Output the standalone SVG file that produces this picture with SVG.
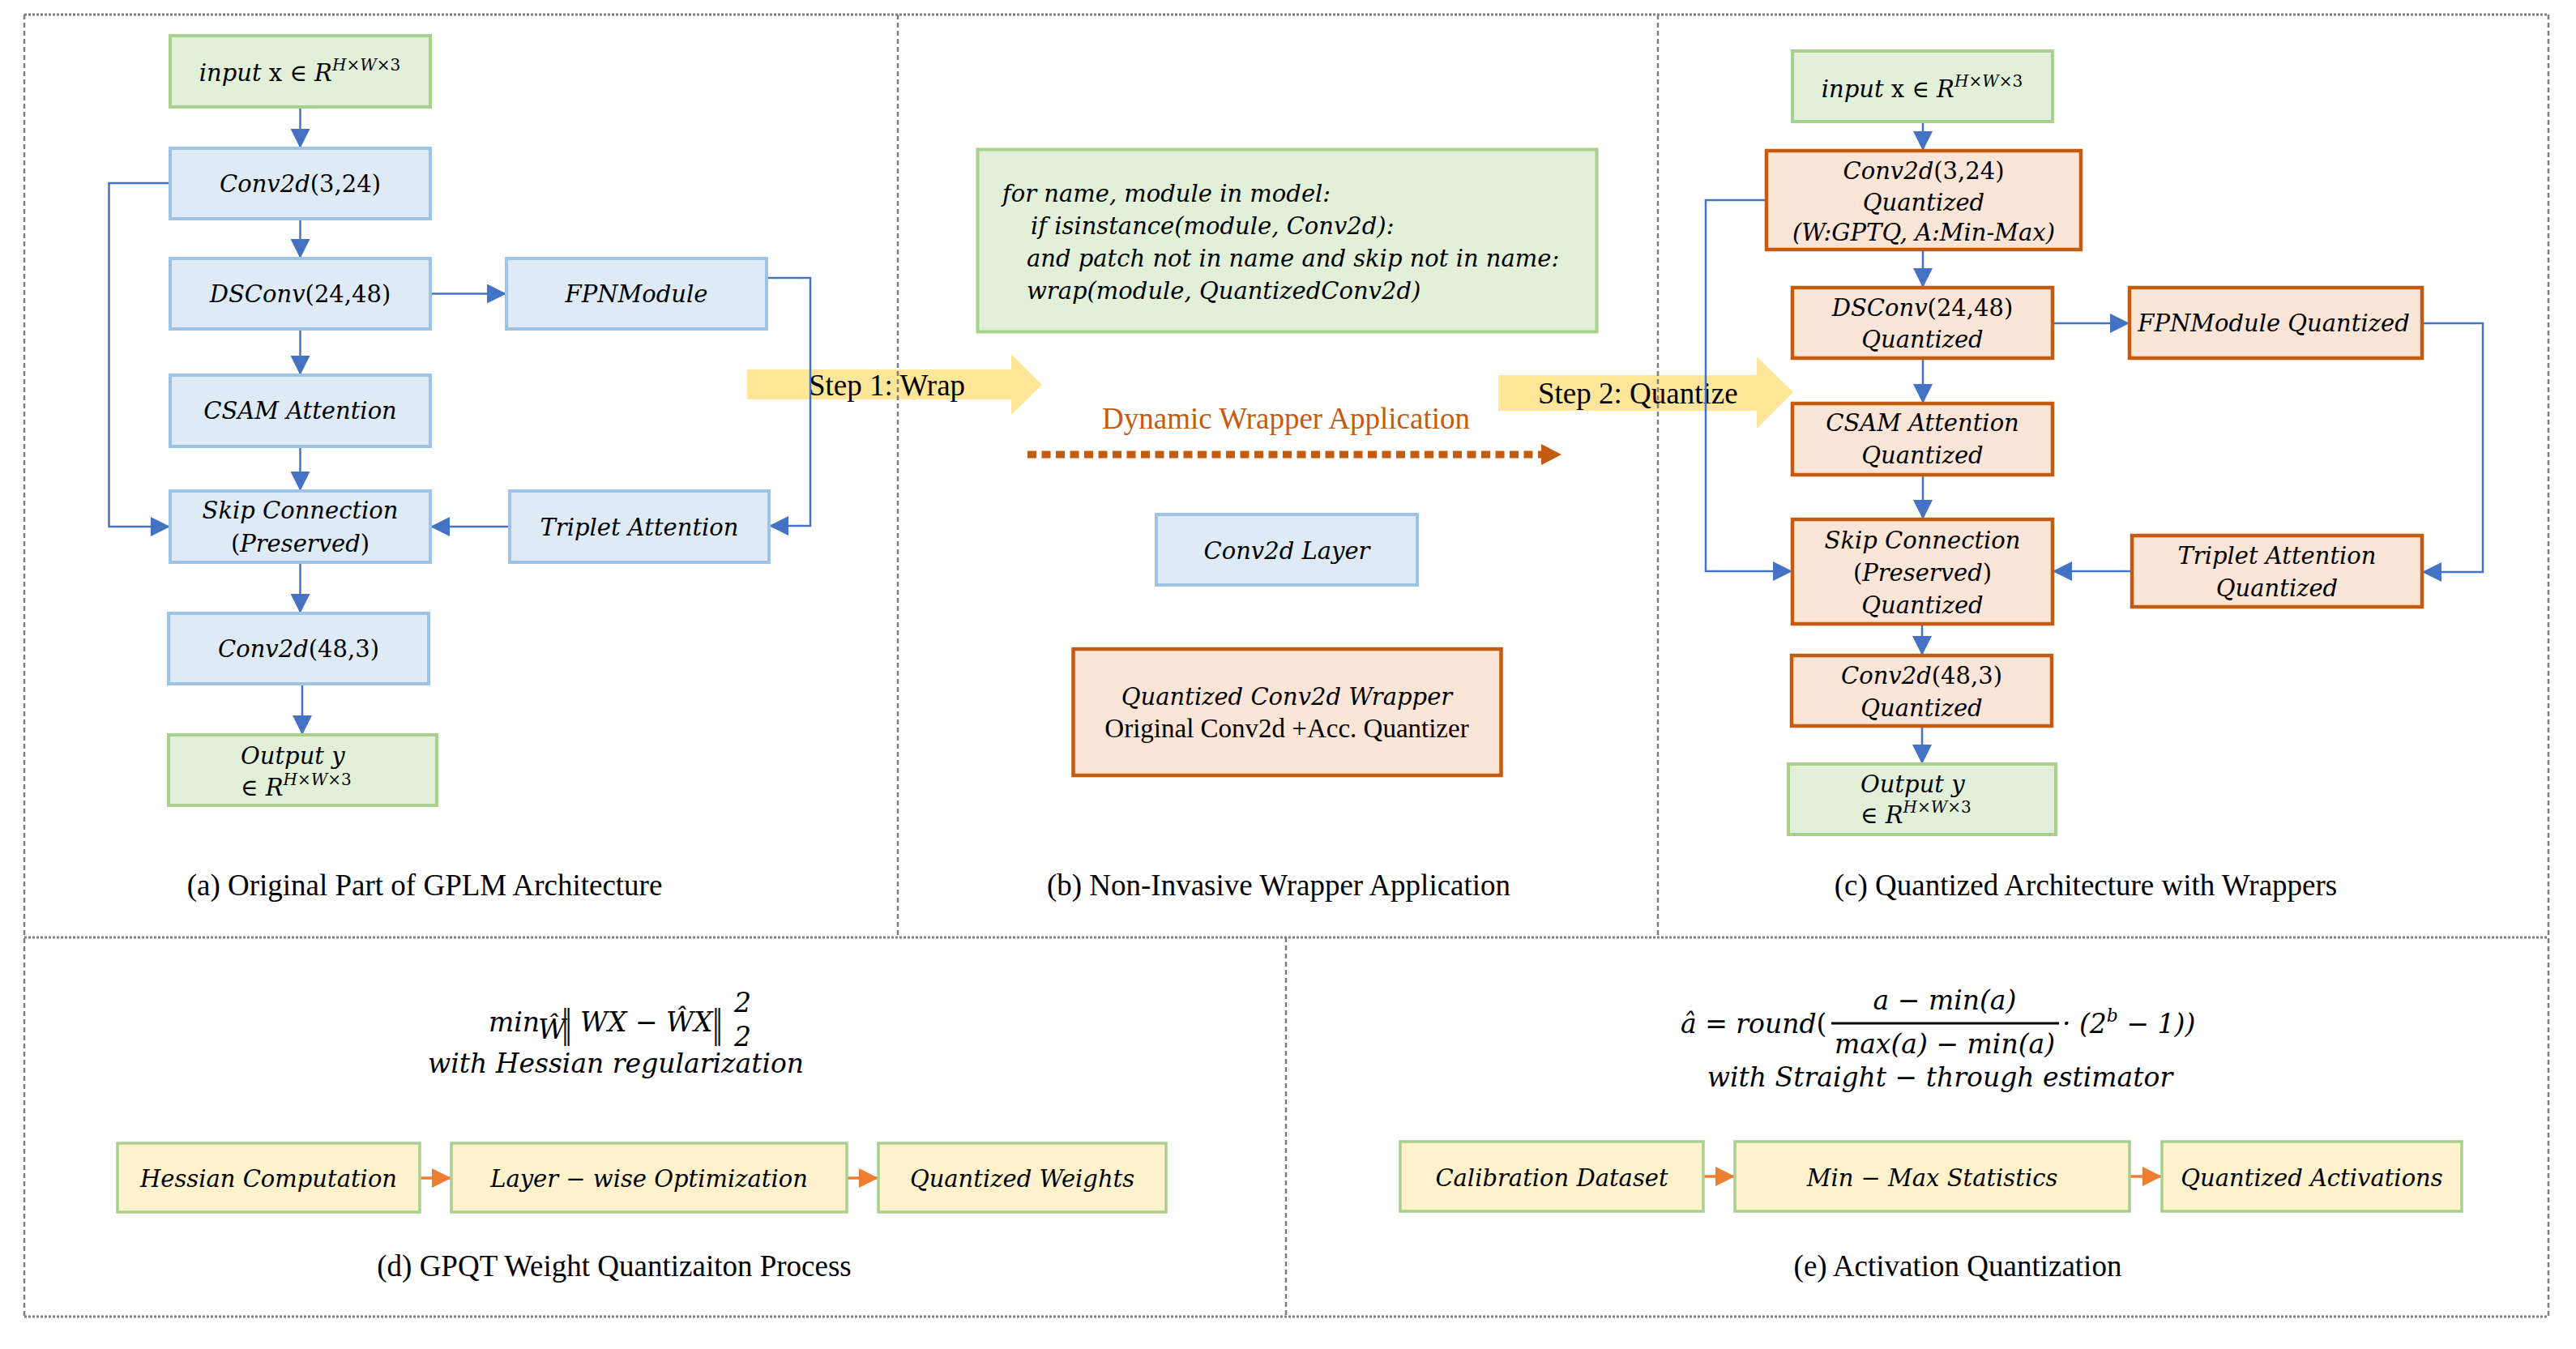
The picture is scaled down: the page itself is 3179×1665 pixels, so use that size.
<svg xmlns="http://www.w3.org/2000/svg" width="3179" height="1665" viewBox="0 0 3179 1665">
<style>
.bg{fill:#FFFFFF}
.nb{fill:#DEEBF7;stroke:#9DC3E6;stroke-width:4}
.ng{fill:#E2F0D9;stroke:#A9D18E;stroke-width:4}
.no{fill:#FBE5D6;stroke:#C55A11;stroke-width:4.5}
.ny{fill:#FFF2CC;stroke:#A9D18E;stroke-width:3.5}
.m{font-family:"DejaVu Serif",serif;font-style:italic;font-size:29px;fill:#000}
.mc{text-anchor:middle}
.up{font-style:normal}
.sup{font-size:20px}
.f{font-family:"DejaVu Serif",serif;font-style:italic;font-size:33px;fill:#000}
.nrm{font-family:"DejaVu Serif",serif;font-style:normal;font-size:26px;fill:#000}
.cap{font-family:"Liberation Serif","Times New Roman",serif;font-size:37px;fill:#000;text-anchor:middle}
.step{font-family:"Liberation Serif","Times New Roman",serif;font-size:37px;fill:#000}
.conn{fill:none;stroke:#4472C4;stroke-width:2.5}
.oconn{fill:none;stroke:#ED7D31;stroke-width:3.5}
.bh{stroke:#7F7F7F;stroke-width:3;stroke-dasharray:3 2;fill:none}
.bv{stroke:#7F7F7F;stroke-width:2.5;stroke-dasharray:6 4;fill:none}
.arrowY{fill:#FFE699}
</style>
<defs>
<marker id="ab" markerUnits="userSpaceOnUse" viewBox="0 0 24 24" markerWidth="24" markerHeight="24" refX="24" refY="12" orient="auto">
<path d="M0,0 L24,12 L0,24 z" fill="#4472C4"/>
</marker>
<marker id="ao" markerUnits="userSpaceOnUse" viewBox="0 0 24 24" markerWidth="24" markerHeight="24" refX="24" refY="12" orient="auto">
<path d="M0,0 L24,12 L0,24 z" fill="#ED7D31"/>
</marker>
</defs>
<rect class="bg" x="0" y="0" width="3179" height="1665"/>

<g id="step-arrows">
<polygon class="arrowY" points="922,456 1248,456 1248,437 1286,475 1248,512 1248,493 922,493"/>
<text class="step" x="998" y="488">Step 1: Wrap</text>
<polygon class="arrowY" points="1849,463 2168,463 2168,440 2213,484 2168,529 2168,507 1849,507"/>
<text class="step" x="1898" y="498">Step 2: Quantize</text>
</g>

<g id="panel-borders">
<line class="bh" x1="30" y1="18" x2="3145" y2="18"/>
<line class="bh" x1="30" y1="1157" x2="3145" y2="1157"/>
<line class="bh" x1="30" y1="1625" x2="3145" y2="1625"/>
<line class="bv" x1="30" y1="18" x2="30" y2="1625"/>
<line class="bv" x1="3145" y1="18" x2="3145" y2="1625"/>
<line class="bv" x1="1108" y1="18" x2="1108" y2="1157"/>
<line class="bv" x1="2046" y1="18" x2="2046" y2="1157"/>
<line class="bv" x1="1587" y1="1157" x2="1587" y2="1625"/>
</g>

<g id="connectors">
<path class="conn" d="M370.5,132 V183" marker-end="url(#ab)"/>
<path class="conn" d="M370.5,270 V319" marker-end="url(#ab)"/>
<path class="conn" d="M370.5,406 V463" marker-end="url(#ab)"/>
<path class="conn" d="M370.5,551 V606" marker-end="url(#ab)"/>
<path class="conn" d="M370.5,694 V757" marker-end="url(#ab)"/>
<path class="conn" d="M373,844 V907" marker-end="url(#ab)"/>
<path class="conn" d="M531,362.5 H625" marker-end="url(#ab)"/>
<path class="conn" d="M210,226 H134.5 V650 H210" marker-end="url(#ab)"/>
<path class="conn" d="M946,343 H1000 V649 H949" marker-end="url(#ab)"/>
<path class="conn" d="M629,650 H531" marker-end="url(#ab)"/>

<path class="conn" d="M2373,150 V186" marker-end="url(#ab)"/>
<path class="conn" d="M2373,308 V355" marker-end="url(#ab)"/>
<path class="conn" d="M2373,442 V498" marker-end="url(#ab)"/>
<path class="conn" d="M2373,586 V641" marker-end="url(#ab)"/>
<path class="conn" d="M2372,770 V809" marker-end="url(#ab)"/>
<path class="conn" d="M2372,896 V943" marker-end="url(#ab)"/>
<path class="conn" d="M2533,399 H2628" marker-end="url(#ab)"/>
<path class="conn" d="M2180,247 H2105 V705 H2212" marker-end="url(#ab)"/>
<path class="conn" d="M2989,399 H3064 V706 H2989" marker-end="url(#ab)"/>
<path class="conn" d="M2631,705 H2533" marker-end="url(#ab)"/>

<line x1="1268" y1="561" x2="1902" y2="561" stroke="#C55A11" stroke-width="9" stroke-dasharray="11 6.5"/>
<polygon points="1902,548 1927,561 1902,574" fill="#C55A11"/>

<path class="oconn" d="M518,1454 H557" marker-end="url(#ao)"/>
<path class="oconn" d="M1045,1454 H1084" marker-end="url(#ao)"/>
<path class="oconn" d="M2102,1452 H2141" marker-end="url(#ao)"/>
<path class="oconn" d="M2628,1452 H2668" marker-end="url(#ao)"/>
</g>

<!-- Panel a -->
<g id="a-input">
<rect class="ng" x="210" y="44" width="321" height="88"/>
<text class="m mc" x="370" y="100">input<tspan class="up"> x ∈ </tspan>R<tspan class="sup" dy="-13">H<tspan class="up">×</tspan>W<tspan class="up">×3</tspan></tspan></text>
</g>
<g id="a-conv2d-3-24">
<rect class="nb" x="210" y="183" width="321" height="87"/>
<text class="m mc" x="370.5" y="237">Conv2d<tspan class="up">(3,24)</tspan></text>
</g>
<g id="a-dsconv">
<rect class="nb" x="210" y="319" width="321" height="87"/>
<text class="m mc" x="370.5" y="373">DSConv<tspan class="up">(24,48)</tspan></text>
</g>
<g id="a-fpn">
<rect class="nb" x="625" y="319" width="321" height="87"/>
<text class="m mc" x="785.5" y="373">FPNModule</text>
</g>
<g id="a-csam">
<rect class="nb" x="210" y="463" width="321" height="88"/>
<text class="m mc" x="370.5" y="517">CSAM Attention</text>
</g>
<g id="a-skip">
<rect class="nb" x="210" y="606" width="321" height="88"/>
<text class="m mc" x="370.5" y="640">Skip Connection</text>
<text class="m mc" x="370.5" y="681"><tspan class="up">(</tspan>Preserved<tspan class="up">)</tspan></text>
</g>
<g id="a-triplet">
<rect class="nb" x="629" y="606" width="320" height="88"/>
<text class="m mc" x="789" y="661">Triplet Attention</text>
</g>
<g id="a-conv2d-48-3">
<rect class="nb" x="208" y="757" width="321" height="87"/>
<text class="m mc" x="368.5" y="811">Conv2d<tspan class="up">(48,3)</tspan></text>
</g>
<g id="a-output">
<rect class="ng" x="208" y="907" width="331" height="87"/>
<text class="m" x="297" y="943">Output y</text>
<text class="m" x="297" y="982"><tspan class="up">∈ </tspan>R<tspan class="sup" dy="-13">H<tspan class="up">×</tspan>W<tspan class="up">×3</tspan></tspan></text>
</g>
<text class="cap" x="524" y="1105">(a) Original Part of GPLM Architecture</text>

<!-- Panel b -->
<g id="b-code">
<rect class="ng" x="1206.5" y="184.5" width="764" height="225"/>
<text class="m" x="1237" y="249">for name, module in model:</text>
<text class="m" x="1272" y="289">if isinstance(module, Conv2d):</text>
<text class="m" x="1267" y="329">and patch not in name and skip not in name:</text>
<text class="m" x="1267" y="369">wrap(module, QuantizedConv2d)</text>
</g>
<text id="b-dyn-label" x="1587" y="529" font-family="Liberation Serif, Times New Roman, serif" font-size="37" fill="#C55A11" text-anchor="middle">Dynamic Wrapper Application</text>
<g id="b-conv2d-layer">
<rect class="nb" x="1427" y="635" width="322" height="87"/>
<text class="m mc" x="1588" y="690">Conv2d Layer</text>
</g>
<g id="b-wrapper">
<rect class="no" x="1324.5" y="801" width="528" height="156"/>
<text class="m mc" x="1588" y="870">Quantized Conv2d Wrapper</text>
<text x="1588" y="910" font-family="Liberation Serif, Times New Roman, serif" font-size="33" text-anchor="middle">Original Conv2d +Acc. Quantizer</text>
</g>
<text class="cap" x="1578" y="1105">(b) Non-Invasive Wrapper Application</text>

<!-- Panel c -->
<g id="c-input">
<rect class="ng" x="2212" y="63" width="321" height="87"/>
<text class="m mc" x="2372" y="120">input<tspan class="up"> x ∈ </tspan>R<tspan class="sup" dy="-13">H<tspan class="up">×</tspan>W<tspan class="up">×3</tspan></tspan></text>
</g>
<g id="c-conv2d-3-24">
<rect class="no" x="2180" y="186" width="388" height="122"/>
<text class="m mc" x="2374" y="221">Conv2d<tspan class="up">(3,24)</tspan></text>
<text class="m mc" x="2374" y="260">Quantized</text>
<text class="m mc" x="2374" y="297">(W:GPTQ, A:Min-Max)</text>
</g>
<g id="c-dsconv">
<rect class="no" x="2212" y="355" width="321" height="87"/>
<text class="m mc" x="2372.5" y="390">DSConv<tspan class="up">(24,48)</tspan></text>
<text class="m mc" x="2372.5" y="429">Quantized</text>
</g>
<g id="c-fpn">
<rect class="no" x="2628" y="355" width="361" height="87"/>
<text class="m mc" x="2806" y="409">FPNModule Quantized</text>
</g>
<g id="c-csam">
<rect class="no" x="2212" y="498" width="321" height="88"/>
<text class="m mc" x="2372.5" y="532">CSAM Attention</text>
<text class="m mc" x="2372.5" y="572">Quantized</text>
</g>
<g id="c-skip">
<rect class="no" x="2212" y="641" width="321" height="129"/>
<text class="m mc" x="2372.5" y="677">Skip Connection</text>
<text class="m mc" x="2372.5" y="717"><tspan class="up">(</tspan>Preserved<tspan class="up">)</tspan></text>
<text class="m mc" x="2372.5" y="757">Quantized</text>
</g>
<g id="c-triplet">
<rect class="no" x="2631" y="661" width="358" height="88"/>
<text class="m mc" x="2810" y="696">Triplet Attention</text>
<text class="m mc" x="2810" y="736">Quantized</text>
</g>
<g id="c-conv2d-48-3">
<rect class="no" x="2211" y="809" width="321" height="87"/>
<text class="m mc" x="2371.5" y="844">Conv2d<tspan class="up">(48,3)</tspan></text>
<text class="m mc" x="2371.5" y="884">Quantized</text>
</g>
<g id="c-output">
<rect class="ng" x="2207" y="943" width="330" height="87"/>
<text class="m" x="2296" y="978">Output y</text>
<text class="m" x="2296" y="1016"><tspan class="up">∈ </tspan>R<tspan class="sup" dy="-13">H<tspan class="up">×</tspan>W<tspan class="up">×3</tspan></tspan></text>
</g>
<text class="cap" x="2574" y="1105">(c) Quantized Architecture with Wrappers</text>

<!-- Panel d -->
<g id="d-formula">
<text class="f" x="603" y="1273" font-size="32">min</text>
<text class="f" x="664" y="1282" font-size="19">Ŵ</text>
<text class="nrm" transform="translate(693,1280) scale(1,1.8)">‖</text>
<text class="f" x="716" y="1273" font-size="28">WX<tspan class="up"> − </tspan>ŴX</text>
<text class="nrm" transform="translate(879,1280) scale(1,1.8)">‖</text>
<text class="f up" x="906" y="1249" font-size="21">2</text>
<text class="f up" x="906" y="1291" font-size="21">2</text>
<text class="f" x="760" y="1324" text-anchor="middle">with Hessian regularization</text>
</g>
<g id="d-hessian">
<rect class="ny" x="145" y="1411" width="373" height="85"/>
<text class="m mc" x="331.5" y="1465">Hessian Computation</text>
</g>
<g id="d-layerwise">
<rect class="ny" x="557" y="1411" width="488" height="85"/>
<text class="m mc" x="801" y="1465">Layer − wise Optimization</text>
</g>
<g id="d-qweights">
<rect class="ny" x="1084" y="1411" width="355" height="85"/>
<text class="m mc" x="1261.5" y="1465">Quantized Weights</text>
</g>
<text class="cap" x="758" y="1575">(d) GPQT Weight Quantizaiton Process</text>

<!-- Panel e -->
<g id="e-formula">
<text class="f" x="2074" y="1275">â<tspan class="up"> = </tspan>round<tspan class="up">(</tspan></text>
<line x1="2260" y1="1263" x2="2541" y2="1263" stroke="#000" stroke-width="3"/>
<text class="f up" x="2400" y="1246" text-anchor="middle"><tspan font-style="italic">a</tspan> − min(<tspan font-style="italic">a</tspan>)</text>
<text class="f up" x="2400" y="1300" text-anchor="middle">max(<tspan font-style="italic">a</tspan>) − min(<tspan font-style="italic">a</tspan>)</text>
<text class="f up" x="2545" y="1275">· (2<tspan font-style="italic" font-size="22" dy="-14">b</tspan><tspan dy="14"> − 1))</tspan></text>
<text class="f" x="2394" y="1341" text-anchor="middle">with Straight − through estimator</text>
</g>
<g id="e-calib">
<rect class="ny" x="1728" y="1409" width="374" height="86"/>
<text class="m mc" x="1915" y="1464">Calibration Dataset</text>
</g>
<g id="e-minmax">
<rect class="ny" x="2141" y="1409" width="487" height="86"/>
<text class="m mc" x="2384.5" y="1464">Min − Max Statistics</text>
</g>
<g id="e-qact">
<rect class="ny" x="2668" y="1409" width="370" height="86"/>
<text class="m mc" x="2853" y="1464">Quantized Activations</text>
</g>
<text class="cap" x="2416" y="1575">(e) Activation Quantization</text>
</svg>
